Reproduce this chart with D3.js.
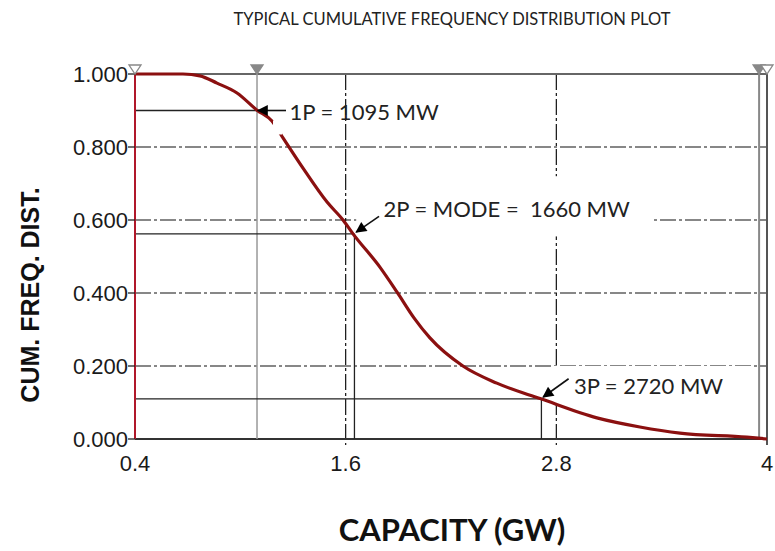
<!DOCTYPE html>
<html>
<head>
<meta charset="utf-8">
<script src="https://cdn.jsdelivr.net/npm/d3@7"></script>
<style>
  body { margin: 0; background: #fff; }
  svg { display: block; }
</style>
</head>
<body>
<svg id="chart" width="775" height="551"></svg>
<script>
// ---- data ----
const curveX = [0.4, 0.673, 0.77, 0.867, 0.981, 1.095, 1.18, 1.243, 1.357, 1.494, 1.585, 1.642, 1.795, 1.892, 1.989, 2.08, 2.268, 2.461, 2.712, 3.031, 3.276, 3.504, 3.885, 4.0];
const curveY = [1.0, 1.0, 0.995, 0.975, 0.948, 0.901, 0.871, 0.825, 0.742, 0.649, 0.600, 0.562, 0.471, 0.403, 0.332, 0.277, 0.200, 0.153, 0.110, 0.058, 0.033, 0.016, 0.005, 0.0];
const yTicks = [0, 0.2, 0.4, 0.6, 0.8, 1.0];
const yTickLabels = ["0.000", "0.200", "0.400", "0.600", "0.800", "1.000"];
const xTicks = [0.4, 1.6, 2.8, 4];
const xTickLabels = ["0.4", "1.6", "2.8", "4"];
const markerNames = ["1P", "2P", "3P"];
const markerX = [1.095, 1.65, 2.715];
const markerY = [0.90, 0.562, 0.11];
const markerLabels = ["1P = 1095 MW", "2P = MODE =  1660 MW", "3P = 2720 MW"];
const topMarkersX = [0.4, 1.095, 3.955, 4.0];
const topMarkersFilled = [false, true, true, false];
const title = "TYPICAL CUMULATIVE FREQUENCY DISTRIBUTION PLOT";
const xTitle = "CAPACITY (GW)";
const yTitle = "CUM. FREQ. DIST.";

// ---- layout ----
const svg = d3.select("#chart");
const x = d3.scaleLinear().domain([0.4, 4]).range([135, 767]);
const y = d3.scaleLinear().domain([0, 1]).range([439, 74]);
const calibri = "Lato, 'Open Sans', sans-serif";
const arial = "'Liberation Sans', Arial, sans-serif";

// defs: arrowhead
svg.append("defs").append("marker")
  .attr("id", "ah").attr("viewBox", "0 0 10 10").attr("refX", 9).attr("refY", 5)
  .attr("markerWidth", 14).attr("markerHeight", 11).attr("markerUnits", "userSpaceOnUse")
  .attr("orient", "auto")
  .append("path").attr("d", "M0,0 L10,5 L0,10 Z").attr("fill", "#000");

// gridlines dash-dot
const dash = "16,3,3,3";
const g = svg.append("g");
yTicks.filter(v => v > 0 && v < 1).forEach(v => {
  g.append("line").attr("x1", x(0.4)).attr("x2", x(4)).attr("y1", y(v)).attr("y2", y(v))
    .attr("stroke", "#111").attr("stroke-width", 1.2).attr("stroke-dasharray", dash);
});
xTicks.filter(v => v > 0.4 && v < 4).forEach(v => {
  g.append("line").attr("x1", x(v)).attr("x2", x(v)).attr("y1", y(1)).attr("y2", y(0) + 6)
    .attr("stroke", "#111").attr("stroke-width", 1.2).attr("stroke-dasharray", dash);
});

// label background boxes (erase gridlines)
const boxes = [
  {x0: 1.66, x1: 3.35, y0: 0.72, y1: 0.555},
  {x0: 2.785, x1: 3.92, y0: 0.20, y1: 0.095}
];
boxes.forEach(b => {
  g.append("rect").attr("x", x(b.x0)).attr("y", y(b.y0)).attr("width", x(b.x1) - x(b.x0))
    .attr("height", y(b.y1) - y(b.y0)).attr("fill", "#fff");
});

// frame
svg.append("line").attr("x1", x(0.4)).attr("x2", x(4)).attr("y1", y(1)).attr("y2", y(1))
  .attr("stroke", "#666").attr("stroke-width", 2);
svg.append("line").attr("x1", x(0.4)).attr("x2", x(4)).attr("y1", y(0)).attr("y2", y(0))
  .attr("stroke", "#333").attr("stroke-width", 2);
svg.append("line").attr("x1", x(4)).attr("x2", x(4)).attr("y1", y(1)).attr("y2", y(0) + 6)
  .attr("stroke", "#555").attr("stroke-width", 2);
svg.append("line").attr("x1", x(3.955)).attr("x2", x(3.955)).attr("y1", y(1)).attr("y2", y(0))
  .attr("stroke", "#888").attr("stroke-width", 2);
// 1P gray vertical
svg.append("line").attr("x1", x(markerX[0])).attr("x2", x(markerX[0])).attr("y1", y(1)).attr("y2", y(0))
  .attr("stroke", "#999").attr("stroke-width", 1.5);

// marker reference lines
markerX.forEach((mx, i) => {
  const my = markerY[i];
  svg.append("line").attr("x1", x(0.4)).attr("x2", x(mx)).attr("y1", y(my)).attr("y2", y(my))
    .attr("stroke", "#222").attr("stroke-width", 1.3);
  if (i > 0) {
    svg.append("line").attr("x1", x(mx)).attr("x2", x(mx)).attr("y1", y(my)).attr("y2", y(0))
      .attr("stroke", "#222").attr("stroke-width", 1.3);
  }
});

// left axis (red)
svg.append("line").attr("x1", x(0.4)).attr("x2", x(0.4)).attr("y1", y(1)).attr("y2", y(0))
  .attr("stroke", "#b0182a").attr("stroke-width", 2);

// y ticks
yTicks.forEach((v, i) => {
  svg.append("line").attr("x1", x(0.4) - 7).attr("x2", x(0.4)).attr("y1", y(v)).attr("y2", y(v))
    .attr("stroke", "#222").attr("stroke-width", 1.3);
  svg.append("text").attr("x", x(0.4) - 7).attr("y", y(v)).attr("dy", "0.36em")
    .attr("text-anchor", "end").attr("font-family", arial).attr("font-size", 22)
    .attr("fill", "#1a1a1a").text(yTickLabels[i]);
});
// x ticks
xTicks.forEach((v, i) => {
  svg.append("text").attr("x", x(v)).attr("y", 471)
    .attr("text-anchor", "middle").attr("font-family", arial).attr("font-size", 22)
    .attr("fill", "#1a1a1a").text(xTickLabels[i]);
});

// curve
const line = d3.line().x(d => x(d[0])).y(d => y(d[1])).curve(d3.curveMonotoneX);
svg.append("path").datum(curveX.map((v, i) => [v, curveY[i]]))
  .attr("d", line).attr("fill", "none").attr("stroke", "#8b1010").attr("stroke-width", 3.2)
  .attr("stroke-linejoin", "round");

// 1P label box erasing a bit of the curve
svg.append("rect").attr("x", x(markerX[0]) + 16).attr("y", y(0.90) + 10)
  .attr("width", 9).attr("height", 14).attr("fill", "#fff");

// top triangles
topMarkersX.forEach((v, i) => {
  const cx = x(v), cy = y(1);
  svg.append("path").attr("d", `M${cx - 6},${cy - 9} L${cx + 6},${cy - 9} L${cx},${cy} Z`)
    .attr("fill", topMarkersFilled[i] ? "#888" : "#fff").attr("stroke", "#888").attr("stroke-width", 1.3);
});

// annotations
const arrows = [
  {fx: 1.26, fy: 0.90, tx: markerX[0] + 0.005, ty: markerY[0]},
  {fx: 1.79, fy: 0.61, tx: markerX[1] + 0.01, ty: markerY[1] + 0.005},
  {fx: 2.87, fy: 0.165, tx: markerX[2] + 0.01, ty: markerY[2] + 0.005}
];
arrows.forEach(a => {
  svg.append("line").attr("x1", x(a.fx)).attr("y1", y(a.fy)).attr("x2", x(a.tx)).attr("y2", y(a.ty))
    .attr("stroke", "#111").attr("stroke-width", 1.6).attr("marker-end", "url(#ah)");
});
const labelPos = [[1.28, 0.895], [1.815, 0.63], [2.9, 0.145]];
markerLabels.forEach((t, i) => {
  svg.append("text").attr("x", x(labelPos[i][0])).attr("y", y(labelPos[i][1])).attr("dy", "0.35em")
    .style("white-space", "pre")
    .attr("font-family", calibri).attr("font-size", 22).attr("fill", "#222").text(t);
});

// titles
svg.append("text").attr("x", 452).attr("y", 25).attr("text-anchor", "middle")
  .attr("font-family", calibri).attr("font-size", 16.5).attr("fill", "#222").text(title);
svg.append("text").attr("x", 452).attr("y", 541).attr("text-anchor", "middle")
  .attr("font-family", calibri).attr("font-weight", "bold").attr("font-size", 31).attr("fill", "#111").text(xTitle);
svg.append("text").attr("transform", "translate(39,295) rotate(-90)").attr("text-anchor", "middle")
  .attr("font-family", arial).attr("font-weight", "bold").attr("font-size", 25).attr("fill", "#111").text(yTitle);
</script>
</body>
</html>
